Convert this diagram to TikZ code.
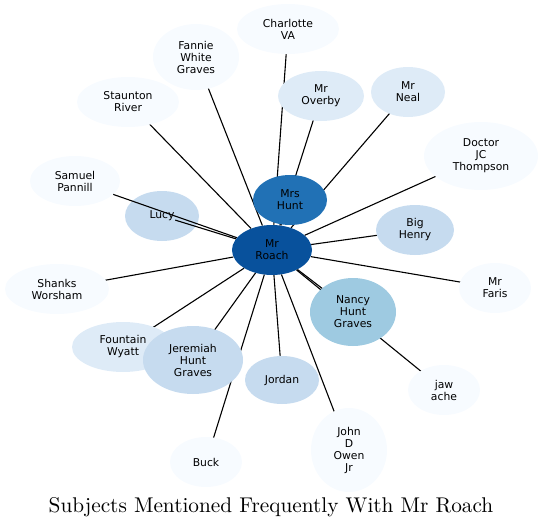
\documentclass[tikz,border=0pt]{standalone}
\usepackage{fontspec}
\newfontfamily\nodefont{DejaVu Sans}
\newfontfamily\titlefont{lmroman10-regular}[Extension=.otf]
\usetikzlibrary{shapes.geometric,calc}
\definecolor{bA}{HTML}{F7FBFF}
\definecolor{bB}{HTML}{DEEBF7}
\definecolor{bC}{HTML}{C6DBEF}
\definecolor{bD}{HTML}{9ECAE1}
\definecolor{bE}{HTML}{2171B5}
\definecolor{bF}{HTML}{08519C}
\tikzset{
  subj/.style n args={3}{ellipse, inner sep=0pt, draw=none, fill=#1,
    minimum width=#2, minimum height=#3, align=center,
    font=\nodefont\fontsize{10.8}{12}\selectfont, text=black},
  link/.style={draw=black, line width=1.1pt}
}
\begin{document}
\begin{tikzpicture}[x=1pt,y=-1pt]
\useasboundingbox (0,0) rectangle (543,527);
\node[subj={bF}{80pt}{50pt}] (roach) at (272,250) {Mr\\Roach};
\path
  (288,29)  coordinate (charlotteC)
  (196,57)  coordinate (fannieC)
  (128,102) coordinate (stauntonC)
  (321,96)  coordinate (overbyC)
  (408,92)  coordinate (nealC)
  (481,156) coordinate (doctorC)
  (75,181)  coordinate (samuelC)
  (162,216) coordinate (lucyC)
  (290,200) coordinate (mrshuntC)
  (415,230) coordinate (henryC)
  (57,289)  coordinate (shanksC)
  (495,288) coordinate (farisC)
  (353,312) coordinate (nancyC)
  (123,347) coordinate (fountainC)
  (193,360) coordinate (jeremiahC)
  (282,380) coordinate (jordanC)
  (444,390) coordinate (jawC)
  (349,450) coordinate (johnC)
  (206,462) coordinate (buckC);
% edges below nodes
\foreach \c in {charlotteC,fannieC,stauntonC,overbyC,nealC,doctorC,mrshuntC,henryC,shanksC,farisC,nancyC,fountainC,jeremiahC,jordanC,jawC,johnC,buckC}{
  \draw[link] (\c) -- (roach);
}
% nodes
\node[subj={bA}{102pt}{50pt}] (charlotte) at (charlotteC) {Charlotte\\VA};
\node[subj={bA}{86pt}{66pt}]  (fannie)    at (fannieC)    {Fannie\\White\\Graves};
\node[subj={bA}{102pt}{50pt}] (staunton)  at (stauntonC)  {Staunton\\River};
\node[subj={bB}{86pt}{50pt}]  (overby)    at (overbyC)    {Mr\\Overby};
\node[subj={bB}{74pt}{50pt}]  (neal)      at (nealC)      {Mr\\Neal};
\node[subj={bA}{114pt}{68pt}] (doctor)    at (doctorC)    {Doctor\\JC\\Thompson};
\node[subj={bA}{90pt}{50pt}]  (samuel)    at (samuelC)    {Samuel\\Pannill};
\node[subj={bC}{74pt}{50pt}]  (lucy)      at (lucyC)      {Lucy};
\node[subj={bE}{74pt}{50pt}]  (mrshunt)   at (mrshuntC)   {Mrs\\Hunt};
\node[subj={bC}{78pt}{50pt}]  (henry)     at (henryC)     {Big\\Henry};
\node[subj={bA}{104pt}{50pt}] (shanks)    at (shanksC)    {Shanks\\Worsham};
\node[subj={bA}{72pt}{50pt}]  (faris)     at (farisC)     {Mr\\Faris};
\node[subj={bD}{86pt}{68pt}]  (nancy)     at (nancyC)     {Nancy\\Hunt\\Graves};
\node[subj={bB}{102pt}{50pt}] (fountain)  at (fountainC)  {Fountain\\Wyatt};
\node[subj={bC}{100pt}{68pt}] (jeremiah)  at (jeremiahC)  {Jeremiah\\Hunt\\Graves};
\node[subj={bC}{74pt}{48pt}]  (jordan)    at (jordanC)    {Jordan};
\node[subj={bA}{72pt}{50pt}]  (jaw)       at (jawC)       {jaw\\ache};
\node[subj={bA}{76pt}{84pt}]  (john)      at (johnC)      {John\\D\\Owen\\Jr};
\node[subj={bA}{72pt}{50pt}]  (buck)      at (buckC)      {Buck};
% edges that run over Lucy
\draw[link] (samuel) -- (roach);
\draw[link] ($(lucy.center)!0.12!(roach.center)$) -- (roach);
% title
\node[font=\titlefont\fontsize{21.3}{25}\selectfont, anchor=base] (title) at (271,512)
  {Subjects Mentioned Frequently With Mr Roach};
\end{tikzpicture}
\end{document}
